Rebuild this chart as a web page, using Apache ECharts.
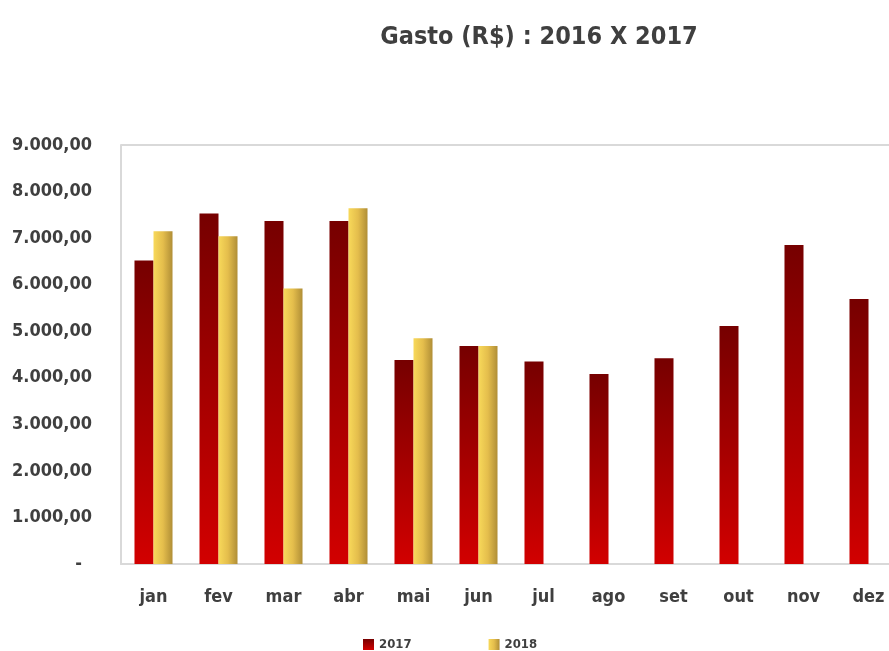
<!DOCTYPE html>
<html>
<head>
<meta charset="utf-8">
<script src="https://cdn.jsdelivr.net/npm/echarts@6/dist/echarts.min.js"></script>
<style>
html,body{margin:0;padding:0;background:#fff;overflow:hidden;}
#chart{width:889px;height:651px;}
</style>
</head>
<body>
<div id="chart"></div>
<script>
const months = ['jan','fev','mar','abr','mai','jun','jul','ago','set','out','nov','dez'];
const values2017 = [6520, 7530, 7370, 7370, 4380, 4680, 4350, 4080, 4420, 5110, 6850, 5690];
const values2018 = [7150, 7040, 5920, 7640, 4850, 4680, null, null, null, null, null, null];
const titleText = 'Gasto (R$) : 2016 X 2017';
const seriesNames = ['2017', '2018'];

const FONT = "'DejaVu Sans Condensed', 'Liberation Sans Narrow', sans-serif";
const TXT = '#3f3f3f';
const BORDER = '#d9d9d9';

function fmt(v) {
  if (v === 0) return '{d|-}';
  const s = Math.round(v).toString().replace(/\B(?=(\d{3})+(?!\d))/g, '.');
  return s + ',00';
}

const chart = echarts.init(document.getElementById('chart'), null, {renderer: 'canvas'});
chart.setOption({
  backgroundColor: '#ffffff',
  animation: false,
  title: {
    text: titleText,
    left: 534,
    top: 20,
    textAlign: 'center',
    textStyle: {fontFamily: FONT, fontWeight: 'bold', fontSize: 25, color: TXT}
  },
  legend: {
    data: seriesNames,
    left: 358,
    top: 633,
    itemWidth: 11,
    itemHeight: 11,
    itemGap: 77,
    icon: 'rect',
    textStyle: {fontFamily: FONT, fontWeight: 'bold', fontSize: 13, color: TXT}
  },
  grid: {
    left: 121,
    top: 145,
    bottom: 87,
    right: -12,
    show: false,
    containLabel: false,
    outerBoundsMode: 'none'
  },
  xAxis: {
    type: 'category',
    data: months,
    axisLine: {show: true, lineStyle: {color: BORDER, width: 2}},
    axisTick: {show: false},
    axisLabel: {fontFamily: FONT, fontWeight: 'bold', fontSize: 18, color: TXT, margin: 24}
  },
  yAxis: {
    type: 'value',
    min: 0,
    max: 9000,
    interval: 1000,
    splitLine: {
      show: true,
      lineStyle: {
        width: 2,
        color: ['rgba(0,0,0,0)','rgba(0,0,0,0)','rgba(0,0,0,0)','rgba(0,0,0,0)','rgba(0,0,0,0)',
                'rgba(0,0,0,0)','rgba(0,0,0,0)','rgba(0,0,0,0)','rgba(0,0,0,0)', BORDER]
      }
    },
    axisLine: {show: true, lineStyle: {color: BORDER, width: 2}},
    axisTick: {show: false},
    axisLabel: {
      fontFamily: FONT, fontWeight: 'bold', fontSize: 18, color: TXT, margin: 29,
      formatter: fmt,
      rich: {d: {fontFamily: FONT, fontWeight: 'bold', fontSize: 18, color: TXT, padding: [0, 10, 0, 0]}}
    }
  },
  series: [
    {
      name: seriesNames[0],
      type: 'bar',
      data: values2017,
      barGap: '0%',
      barCategoryGap: '41.5%',
      itemStyle: {
        color: new echarts.graphic.LinearGradient(0, 0, 0, 1, [
          {offset: 0, color: '#760000'},
          {offset: 1, color: '#d20000'}
        ])
      }
    },
    {
      name: seriesNames[1],
      type: 'bar',
      data: values2018,
      barGap: '0%',
      barCategoryGap: '41.5%',
      itemStyle: {
        color: new echarts.graphic.LinearGradient(0, 0, 1, 0, [
          {offset: 0, color: '#f8d95a'},
          {offset: 0.5, color: '#e4bd4c'},
          {offset: 1, color: '#b08e36'}
        ])
      }
    }
  ]
});
</script>
</body>
</html>
